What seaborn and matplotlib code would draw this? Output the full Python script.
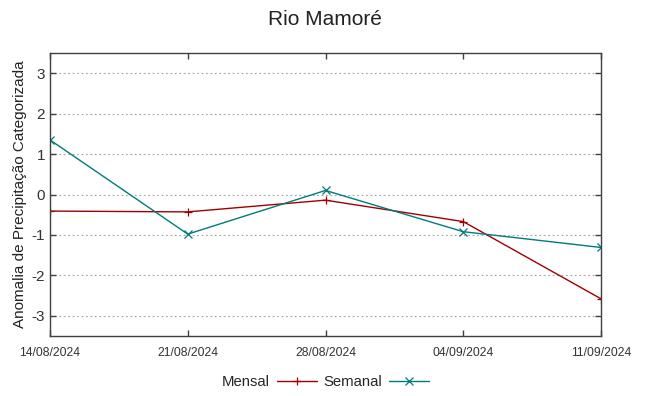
import pandas as pd
import matplotlib
matplotlib.use("Agg")
import matplotlib.pyplot as plt
import seaborn as sns

# Data
dates = ["14/08/2024", "21/08/2024", "28/08/2024", "04/09/2024", "11/09/2024"]
mensal = [-0.41, -0.43, -0.14, -0.67, -2.58]
semanal = [1.35, -0.98, 0.10, -0.92, -1.31]
yticks = [-3, -2, -1, 0, 1, 2, 3]

sns.set_style("ticks")
plt.rcParams['font.family'] = ['Liberation Sans', 'DejaVu Sans']

x = pd.to_datetime(dates, format="%d/%m/%Y")
series = [("Mensal", mensal, "#a00000", "+"),
          ("Semanal", semanal, "#007a7a", "x")]

fig = plt.figure(figsize=(6.49, 3.96), dpi=100)
ax = fig.add_axes([50 / 649, 1 - 336 / 396, 551 / 649, 283 / 396])

for name, vals, col, mk in series:
    sns.lineplot(x=x, y=vals, color=col, marker=mk, markersize=5.5,
                 markeredgewidth=0.9, markeredgecolor=col, linewidth=1,
                 label=name, ax=ax)

ax.set_xlim(x[0], x[-1])
ax.set_ylim(-3.5, 3.5)
ax.set_yticks(yticks)
ax.set_yticklabels([str(v) for v in yticks], fontsize=11)
ax.set_xticks(x)
ax.set_xticklabels(dates, fontsize=8.7, family=['Liberation Sans Narrow', 'Liberation Sans'])
ax.yaxis.grid(True, color="#a0a0a0", linestyle=(0, (1.5, 2.5)), linewidth=0.8)
ax.tick_params(direction="in", length=4, width=1, color="#404040",
               top=True, right=True, labelcolor="#333333")
ax.tick_params(axis="x", pad=8)
for sp in ax.spines.values():
    sp.set_color("#404040")
    sp.set_linewidth(1)

ax.set_xlabel("")
ax.set_ylabel("Anomalia de Precipitação Categorizada", fontsize=11, color="#222222", labelpad=3)
fig.suptitle("Rio Mamoré", fontsize=15, y=0.975, color="#222222")

h, l = ax.get_legend_handles_labels()
ax.legend(h, l, loc="center", bbox_to_anchor=(0.5, -0.1625), ncol=2,
          frameon=False, markerfirst=False, fontsize=10.7, handlelength=2.7,
          columnspacing=0.4, handletextpad=0.5, borderpad=0)

fig.savefig("out.png", dpi=100)
